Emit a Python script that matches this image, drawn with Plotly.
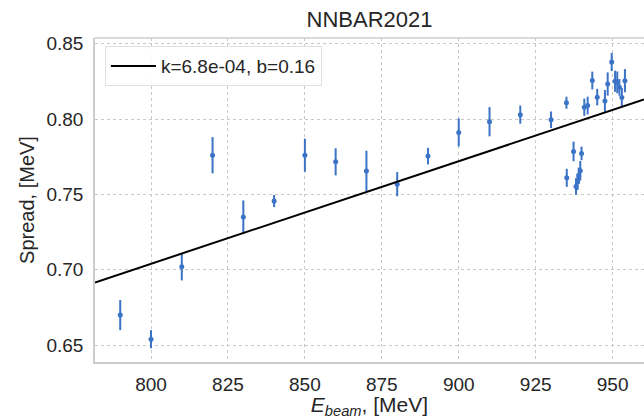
import plotly.graph_objects as go

# Beam energy [MeV]
energy = [790, 800, 810, 820, 830, 840, 850, 860, 870, 880, 890, 900, 910, 920, 930,
          935.0, 935.1, 937.3, 938.1, 938.6, 939.0, 939.5, 939.9,
          940.8, 941.9, 943.4, 945.0, 947.5, 948.4, 949.7, 950.8, 951.5, 952.2, 953.0, 954.0]
# Spread [MeV]
spread = [0.670, 0.654, 0.702, 0.776, 0.735, 0.7456, 0.776, 0.7716, 0.7655, 0.7568, 0.7754, 0.7911, 0.7982, 0.8029, 0.7995,
          0.8108, 0.7610, 0.7785, 0.7553, 0.7584, 0.7623, 0.7657, 0.7772,
          0.8078, 0.8089, 0.8255, 0.8145, 0.8120, 0.8232, 0.8378, 0.8250, 0.8243, 0.8210, 0.8142, 0.8254]
# Error of spread [MeV]
spread_err = [0.010, 0.006, 0.009, 0.012, 0.011, 0.004, 0.011, 0.009, 0.0135, 0.008, 0.0055, 0.0093, 0.0097, 0.006, 0.0055,
              0.004, 0.006, 0.0065, 0.0055, 0.0055, 0.0055, 0.0065, 0.0045,
              0.0057, 0.0059, 0.0059, 0.0055, 0.0072, 0.0077, 0.006, 0.007, 0.0072, 0.0055, 0.0064, 0.0077]

fit_k = 6.8e-4
fit_b = 0.16
x_range = [781.8, 960.2]
y_range = [0.6389, 0.8537]
x_ticks = [800, 825, 850, 875, 900, 925, 950]
y_ticks = [0.65, 0.70, 0.75, 0.80, 0.85]

fit_x = x_range
fit_y = [fit_k * e + fit_b for e in fit_x]

blue = "#3b73c6"
font_family = "Liberation Sans, Arial, Helvetica, sans-serif"
text_color = "#262626"

fig = go.Figure()
fig.add_trace(go.Scatter(
    x=energy, y=spread, mode="markers",
    marker=dict(color=blue, size=5),
    error_y=dict(type="data", array=spread_err, visible=True, width=0, thickness=2, color=blue),
    showlegend=False,
))
fig.add_trace(go.Scatter(
    x=fit_x, y=fit_y, mode="lines",
    line=dict(color="black", width=2),
    name="k=6.8e-04, b=0.16",
))

axis_common = dict(
    showgrid=True, gridcolor="#c8c8c8", gridwidth=1, griddash="dot",
    showline=True, linecolor="#cccccc", linewidth=1.5, mirror=False,
    zeroline=False, ticks="", tickfont=dict(size=19, color=text_color),
)

fig.update_layout(
    width=644, height=419,
    margin=dict(l=95, r=0, t=38, b=57),
    paper_bgcolor="white", plot_bgcolor="white",
    font=dict(family=font_family, color=text_color),
    title=dict(text="NNBAR2021", x=0.5, xref="paper", xanchor="center",
               y=1 - 19 / 419, yanchor="middle", font=dict(size=22, color=text_color)),
    xaxis=dict(range=x_range, tickvals=x_ticks, ticklabelstandoff=4,
               title=dict(text="<i>E</i><sub><i>beam</i></sub>, [MeV]", font=dict(size=21), standoff=2),
               **axis_common),
    yaxis=dict(range=y_range, tickvals=y_ticks, tickformat=".2f", ticklabelstandoff=6,
               title=dict(text="Spread, [MeV]", font=dict(size=20), standoff=6),
               **axis_common),
    legend=dict(x=0.018, y=0.975, xanchor="left", yanchor="top", itemwidth=45,
                bgcolor="rgba(255,255,255,0.9)", bordercolor="#e0e0e0", borderwidth=1,
                font=dict(size=19, color=text_color)),
    shapes=[dict(type="line", xref="paper", yref="paper", x0=0, x1=1, y0=1, y1=1,
                 line=dict(color="#cccccc", width=1.5))],
)

fig.write_html("out.html")
